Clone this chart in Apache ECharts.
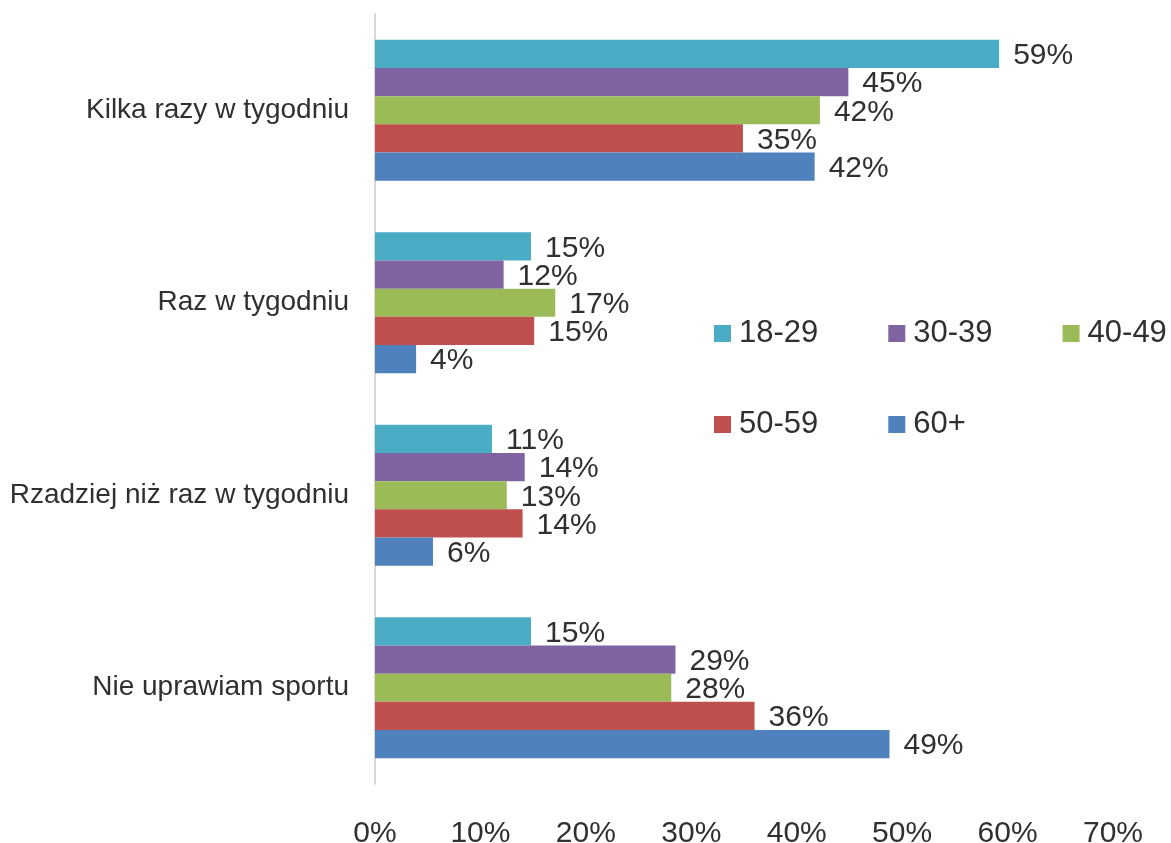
<!DOCTYPE html>
<html>
<head>
  <meta charset="utf-8">
  <title>Sport</title>
  <script src="https://cdn.jsdelivr.net/npm/echarts@6/dist/echarts.min.js"></script>
  <style>
    html, body {
      margin: 0;
      padding: 0;
      background: #fff;
    }
    #chart {
      width: 1171px;
      height: 843px;
    }
  </style>
</head>
<body>
  <div id="chart"></div>
  <script>
    // kategorie (od góry)
    const categories = ['Kilka razy w tygodniu', 'Raz w tygodniu', 'Rzadziej niż raz w tygodniu', 'Nie uprawiam sportu']

    // grupy wiekowe
    const groups = ['18-29', '30-39', '40-49', '50-59', '60+']
    const colors = ['#4BACC6', '#8064A2', '#9BBB59', '#C0504D', '#4F81BD']

    // wartości w %
    const age18_29 = [59.2, 14.8, 11.1, 14.8]
    const age30_39 = [44.9, 12.2, 14.2, 28.5]
    const age40_49 = [42.2, 17.1, 12.5, 28.1]
    const age50_59 = [34.9, 15.1, 14.0, 36.0]
    const age60plus = [41.7, 3.9, 5.5, 48.8]

    const values = [age18_29, age30_39, age40_49, age50_59, age60plus]

    const font = 'Liberation Sans, Arial, sans-serif'
    const textColor = '#303030'

    let chart = echarts.init(document.getElementById('chart'))

    let series = groups.map((name, i) => {
      return {
        name: name,
        type: 'bar',
        barGap: 0,
        barCategoryGap: '26.7%',
        itemStyle: {
          color: colors[i]
        },
        label: {
          show: true,
          position: 'right',
          distance: 14,
          offset: [0, 2],
          fontFamily: font,
          fontSize: 30,
          color: textColor,
          formatter: (p) => Math.round(p.value) + '%'
        },
        data: values[i]
      }
    })

    // wspólny styl legendy
    const legendBase = {
      orient: 'horizontal',
      left: 714,
      padding: 0,
      icon: 'rect',
      itemWidth: 17,
      itemHeight: 17,
      itemGap: 70,
      textStyle: {
        fontFamily: font,
        fontSize: 31,
        color: textColor,
        padding: [0, 0, 0, 3]
      }
    }

    chart.setOption({
      animation: false,
      color: colors,
      legend: [
        Object.assign({}, legendBase, { top: 318, data: groups.slice(0, 3) }),
        Object.assign({}, legendBase, { top: 409, data: groups.slice(3) })
      ],
      grid: {
        left: 375,
        right: 58,
        top: 14,
        bottom: 59,
        containLabel: false,
        outerBoundsMode: 'none'
      },
      xAxis: {
        type: 'value',
        min: 0,
        max: 70,
        interval: 10,
        axisLine: { show: false },
        axisTick: { show: false },
        splitLine: { show: false },
        axisLabel: {
          margin: 35,
          fontFamily: font,
          fontSize: 30,
          color: textColor,
          formatter: '{value}%'
        }
      },
      yAxis: {
        type: 'category',
        inverse: true,
        data: categories,
        axisTick: { show: false },
        axisLine: {
          show: true,
          lineStyle: {
            color: '#d9d9d9',
            width: 2
          }
        },
        axisLabel: {
          margin: 26,
          fontFamily: font,
          fontSize: 28,
          color: textColor
        }
      },
      series: series
    })

    window.addEventListener('resize', () => {
      chart.resize()
    })
  </script>
</body>
</html>
